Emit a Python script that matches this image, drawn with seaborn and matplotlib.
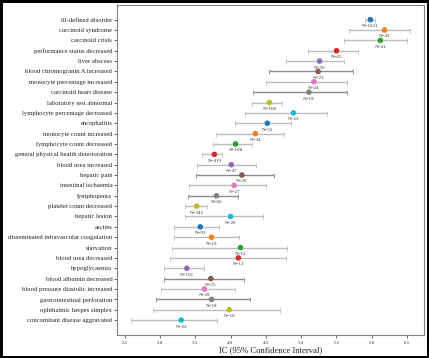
import numpy as np
import pandas as pd
import matplotlib
matplotlib.use("Agg")
import matplotlib.pyplot as plt
import seaborn as sns

events = [
    "ill-defined disorder", "carcinoid syndrome", "carcinoid crisis",
    "performance status decreased", "liver abscess", "blood chromogranin A increased",
    "monocyte percentage increased", "carcinoid heart disease", "laboratory test abnormal",
    "lymphocyte percentage decreased", "encephalitis", "monocyte count increased",
    "lymphocyte count decreased", "general physical health deterioration", "blood urea increased",
    "hepatic pain", "intestinal ischaemia", "lymphopenia", "platelet count decreased",
    "hepatic lesion", "ascites", "disseminated intravascular coagulation", "starvation",
    "blood urea decreased", "hypoglycaemia", "blood albumin decreased",
    "blood pressure diastolic increased", "gastrointestinal perforation",
    "ophthalmic herpes simplex", "concomitant disease aggravated",
]
ic = [5.98, 6.18, 6.12, 5.50, 5.26, 5.24, 5.18, 5.11, 4.55, 4.89,
      4.52, 4.35, 4.07, 3.77, 4.01, 4.16, 4.05, 3.80, 3.52, 4.00,
      3.57, 3.73, 4.14, 4.11, 3.38, 3.72, 3.63, 3.73, 3.98, 3.30]
ci_low = [5.91, 5.68, 5.61, 5.09, 4.79, 4.55, 4.50, 4.32, 4.31, 4.20,
          4.06, 3.79, 3.75, 3.60, 3.52, 3.51, 3.41, 3.39, 3.35, 3.35,
          3.20, 3.20, 3.17, 3.14, 3.06, 3.06, 3.01, 2.94, 2.90, 2.59]
ci_high = [6.05, 6.54, 6.50, 5.81, 5.60, 5.73, 5.65, 5.65, 4.73, 5.37,
           4.85, 4.75, 4.30, 3.88, 4.36, 4.62, 4.50, 4.10, 3.66, 4.46,
           3.83, 4.12, 4.80, 4.78, 3.62, 4.19, 4.06, 4.28, 4.70, 3.81]
counts = [1621, 43, 41, 65, 30, 23, 24, 18, 106, 23,
          52, 34, 108, 419, 47, 26, 27, 66, 342, 26,
          93, 19, 12, 12, 101, 25, 29, 18, 10, 22]

df = pd.DataFrame({"event": events, "ic": ic, "lo": ci_low, "hi": ci_high, "n": counts})
df["pos"] = np.arange(len(df))

tab10 = sns.color_palette("tab10", 10)
colors = [tab10[i % 10] for i in range(len(df))]

sns.set_style("white")
plt.rcParams["font.family"] = ["Liberation Serif", "DejaVu Serif"]

fig = plt.figure(figsize=(4.29, 3.58), dpi=100)
ax = fig.add_axes([0.273, 0.064, 0.715, 0.923])

for i, row in df.iterrows():
    ecol = "#8a8a8a" if (i % 10) in (5, 7) else "#bdbdbd"
    ax.errorbar(row["ic"], row["pos"],
                xerr=[[row["ic"] - row["lo"]], [row["hi"] - row["ic"]]],
                fmt="none", ecolor=ecol, elinewidth=1.0, capsize=1.8, capthick=0.6, zorder=1)

sns.scatterplot(data=df, x="ic", y="pos", hue="event", palette=colors,
                s=16, edgecolor="none", legend=False, ax=ax, zorder=3)

for i, row in df.iterrows():
    ax.annotate(f"N={row['n']}", (row["ic"], row["pos"]), xytext=(0, -3.2),
                textcoords="offset points", ha="center", va="top", fontsize=3.6, color="#333333")

ax.set_yticks(df["pos"])
ax.set_yticklabels(df["event"], fontsize=4.8, color="#222222")
ax.invert_yaxis()
ax.set_xticks([2.5, 3.0, 3.5, 4.0, 4.5, 5.0, 5.5, 6.0, 6.5])
ax.tick_params(axis="x", labelsize=3.6, length=2, width=0.5, pad=2, colors="#333333")
ax.tick_params(axis="y", length=2, width=0.5, pad=1.5)
ax.tick_params(axis="both", bottom=True, left=True)
ax.set_xlabel("IC (95% Confidence Interval)", fontsize=6.2, color="#222222", labelpad=1)
ax.set_ylabel("")
for s in ax.spines.values():
    s.set_color("#808080")
    s.set_linewidth(0.8)

fig.patch.set_edgecolor("black")
fig.patch.set_linewidth(2.5)
fig.savefig("out.png", dpi=100, edgecolor=fig.get_edgecolor())
